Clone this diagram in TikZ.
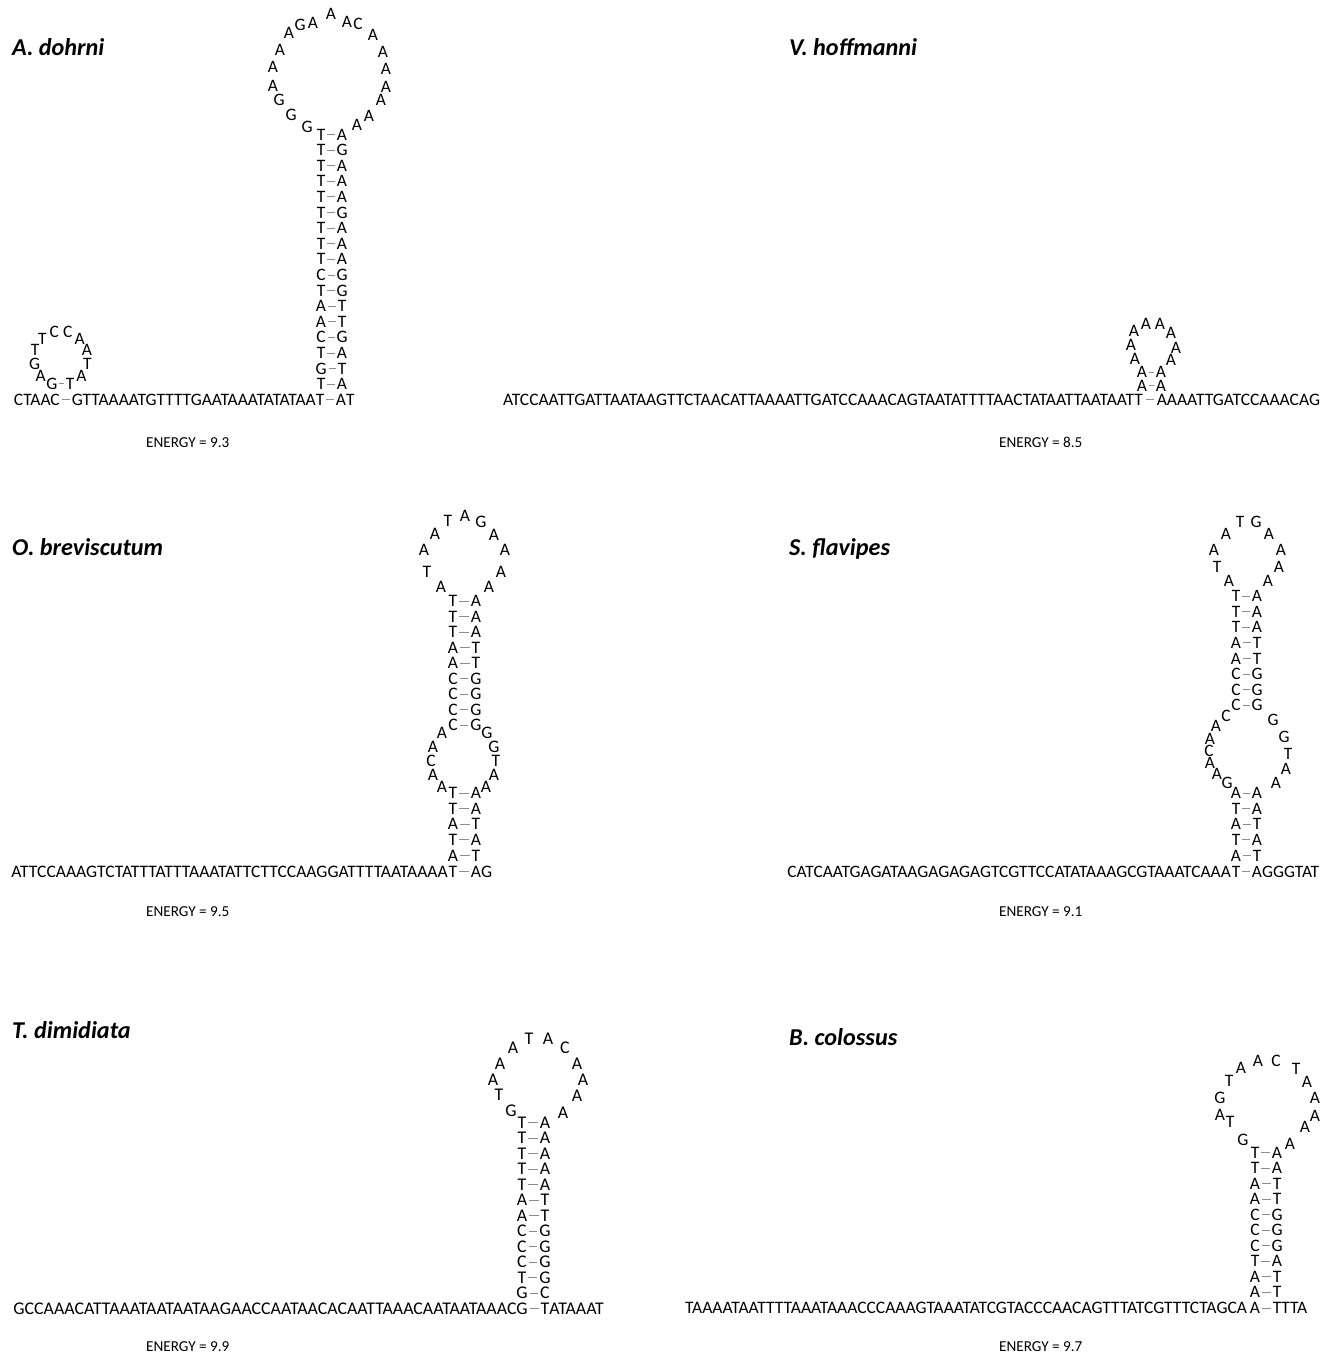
\documentclass[tikz,border=0pt]{standalone}
\usepackage{fontspec}
\setmainfont{Carlito}
\def\ntsz{17.3}
\newcommand\ntfont{\fontsize{\ntsz}{\ntsz}\selectfont}
\tikzset{
  nt/.style={inner sep=0pt, outer sep=0pt, font=\ntfont, text height={0.644*\ntsz pt}, text depth=0pt},
  bp/.style={draw=black!45, line width=0.8pt, shorten <=2pt, shorten >=2pt},
  ttl/.style={anchor=base west, inner sep=0pt, font=\fontsize{24.2}{24.2}\selectfont\bfseries\itshape},
  en/.style={anchor=base west, inner sep=0pt, font=\fontsize{15.2}{15.2}\selectfont},
}
% loop letters: name, list letter/x/y
\newcommand\hploop[2]{\foreach \hL/\hX/\hY [count=\hK] in {#2}{\node[nt] (#1\hK) at (\hX,\hY) {\hL};}}
% stem: name, xL, xR, ytop, dy, list L/R
\newcommand\hpstem[6]{\foreach \hA/\hB [count=\hK] in {#6}{%
  \node[nt] (#1L\hK) at (#2,{#4+(\hK-1)*#5}) {\hA};
  \node[nt] (#1R\hK) at (#3,{#4+(\hK-1)*#5}) {\hB};
  \draw[bp] (#1L\hK) -- (#1R\hK);}}
\begin{document}
\begin{tikzpicture}[x=1pt,y=-1pt]
\fill[white] (0,0) rectangle (1338,1356);
\useasboundingbox (0,0) rectangle (1338,1356);

% ---------------- A. dohrni ----------------
\def\ntsz{17.45}
\node[ttl] (t1) at (12,56) {A. dohrni};
\hpstem{ds}{321}{342}{134.5}{15.6}{T/A,T/G,T/A,T/A,T/A,T/G,T/A,T/A,T/A,C/G,T/G,A/T,A/T,C/G,T/A,G/T,T/A}
\hploop{dl}{G/307/127,G/291/115,G/279/100,A/273/86,A/273/67,A/280/50,A/289/33,G/300/25,A/313/23,A/331/14,A/347/22,C/358/24,A/373/35,A/383/52,A/386/69,A/386/87,A/381/100,A/369/116,A/357/125}
% small hairpin
\hploop{dm}{A/40.6/375.7,G/34.6/363.5,T/35.2/350,T/42.4/338.5,C/54.2/331.9,C/67.8/331.9,A/79.7/338.5,A/86.8/350,T/87.4/363.6,A/81.4/375.7}
\node[nt] (dmL) at (51.8,383.4) {G};
\node[nt] (dmR) at (70.2,383.4) {T};
\draw[bp] (dmL) -- (dmR);
% baseline
\node[nt] (db1) at (320,399.5) {T};
\node[nt] (db2) at (341,399.5) {A};
\draw[bp] (db1) -- (db2);
\node[nt, anchor=east] (db0) at (db1.west) {GTTAAAATGTTTTGAATAAATATATAA};
\node[nt, anchor=west] (db3) at (db2.east) {T};
\node[nt, anchor=east] (dbL) at ([xshift=-12pt]db0.west) {CTAAC};
\draw[bp] (dbL) -- (db0);
\node[en] (e1) at (146,447) {ENERGY = 9.3};

% ---------------- V. hoffmanni ----------------
\def\ntsz{17.5}
\node[ttl] (t2) at (789,56) {V. hoffmanni};
\hpstem{vs}{1142}{1161}{372}{13.5}{A/A,A/A}
\hploop{vl}{A/1135/359,A/1131/345,A/1134/331,A/1146/324,A/1160/324,A/1171/333,A/1176/348,A/1171/360}
\node[nt, anchor=west] (vbL) at (503,399.5) {ATCCAATTGATTAATAAGTTCTAACATTAAAATTGATCCAAACAGTAATATTTTAACTATAATTAATAATT};
\node[nt, anchor=east] (vbR) at (1320,399.5) {AAAATTGATCCAAACAG};
\draw[bp, shorten <=3pt, shorten >=3pt] (vbL) -- (vbR);
\node[en] (e2) at (999,447) {ENERGY = 8.5};

% ---------------- O. breviscutum ----------------
\def\ntsz{17.55}
\node[ttl] (t3) at (12,555) {O. breviscutum};
\hpstem{os}{453}{476}{601}{15.5}{T/A,T/A,T/A,A/T,A/T,C/G,C/G,C/G,C/G}
\hploop{ol}{A/441/587,T/427/572,A/424/550,A/435/534,T/448/521,A/465/516,G/481/522,A/494/535,A/505/550,A/501/572,A/489/587}
\hploop{oi}{A/442/733,A/433/747,C/431/761,A/433/775,A/442/787}
\hploop{oj}{G/487/733,G/494/747,T/496/761,A/494/775,A/486/787}
\hpstem{ot}{453}{476}{793}{15.6}{T/A,T/A,A/T,T/A,A/T}
\node[nt] (ob1) at (453,871.5) {T};
\node[nt] (ob2) at (476,871.5) {A};
\draw[bp] (ob1) -- (ob2);
\node[nt, anchor=east] (ob0) at ([xshift=-1pt]ob1.west) {ATTCCAAAGTCTATTTATTTAAATATTCTTCCAAGGATTTTAATAAAA};
\node[nt, anchor=west] (ob3) at (ob2.east) {G};
\node[en] (e3) at (146,916) {ENERGY = 9.5};

% ---------------- S. flavipes ----------------
\def\ntsz{17.4}
\node[ttl] (t4) at (789,555) {S. flavipes};
\hpstem{ss}{1236}{1257}{596}{15.6}{T/A,T/A,T/A,A/T,A/T,C/G,C/G,C/G}
\hploop{sl}{A/1229/581,T/1217/567,A/1214/550,A/1226/534,T/1240/522,G/1256/522,A/1269/534,A/1281/550,A/1279/567,A/1268/581}
\hploop{si}{C/1226/716,A/1216/726,A/1210/739,C/1209/751,A/1210/763,A/1217/774,G/1227/783}
\hploop{sj}{G/1273/720,G/1284/737,T/1288/754,A/1286/769,A/1276/783}
\hpstem{st}{1236}{1257}{793}{15.6}{A/A,T/A,A/T,T/A,A/T}
\node[nt] (sb1) at (1236,871.5) {T};
\node[nt] (sb2) at (1257,871.5) {A};
\draw[bp] (sb1) -- (sb2);
\node[nt, anchor=east] (sb0) at ([xshift=-1pt]sb1.west) {CATCAATGAGATAAGAGAGAGTCGTTCCATATAAAGCGTAAATCAAA};
\node[nt, anchor=west] (sb3) at (sb2.east) {GGGTAT};
\node[en] (e4) at (999,916) {ENERGY = 9.1};

% ---------------- T. dimidiata ----------------
\def\ntsz{17.85}
\node[ttl] (t5) at (12,1038) {T. dimidiata};
\hpstem{ts}{522}{545}{1122.5}{15.5}{T/A,T/A,T/A,T/A,T/A,A/T,A/T,C/G,C/G,C/G,T/G,G/C}
\hploop{tl}{G/511/1111,T/499/1095,A/493/1080,A/500/1064,A/513/1048,T/529/1039,A/548/1039,C/565/1048,A/577/1064,A/583/1080,A/577/1096,A/563/1113}
\node[nt] (tb1) at (522,1308.5) {G};
\node[nt] (tb2) at (545,1308.5) {T};
\draw[bp] (tb1) -- (tb2);
\node[nt, anchor=east] (tb0) at (tb1.west) {GCCAAACATTAAATAATAATAAGAACCAATAACACAATTAAACAATAATAAAC};
\node[nt, anchor=west] (tb3) at (tb2.east) {ATAAAT};
\node[en] (e5) at (146,1351) {ENERGY = 9.9};

% ---------------- B. colossus ----------------
\def\ntsz{17.5}
\node[ttl] (t6) at (789,1045) {B. colossus};
\hpstem{bs}{1255}{1277}{1152.5}{15.5}{T/A,T/A,A/T,A/T,C/G,C/G,C/G,T/A,A/T,A/T}
\hploop{bl}{G/1243/1140,T/1230/1122,A/1220/1115,G/1220/1098,T/1229/1081,A/1241/1068,A/1258/1061,C/1276/1061,T/1296/1069,A/1307/1082,A/1315/1098,A/1315/1116,A/1305/1127,A/1290/1144}
\node[nt] (bb1) at (1255,1308) {A};
\node[nt] (bb2) at (1277,1308) {T};
\draw[bp] (bb1) -- (bb2);
\node[nt, anchor=east] (bb0) at ([xshift=-3pt]bb1.west) {TAAAATAATTTTAAATAAACCCAAAGTAAATATCGTACCCAACAGTTTATCGTTTCTAGCA};
\node[nt, anchor=west] (bb3) at (bb2.east) {TTA};
\node[en] (e6) at (999,1351) {ENERGY = 9.7};
\end{tikzpicture}
\end{document}
